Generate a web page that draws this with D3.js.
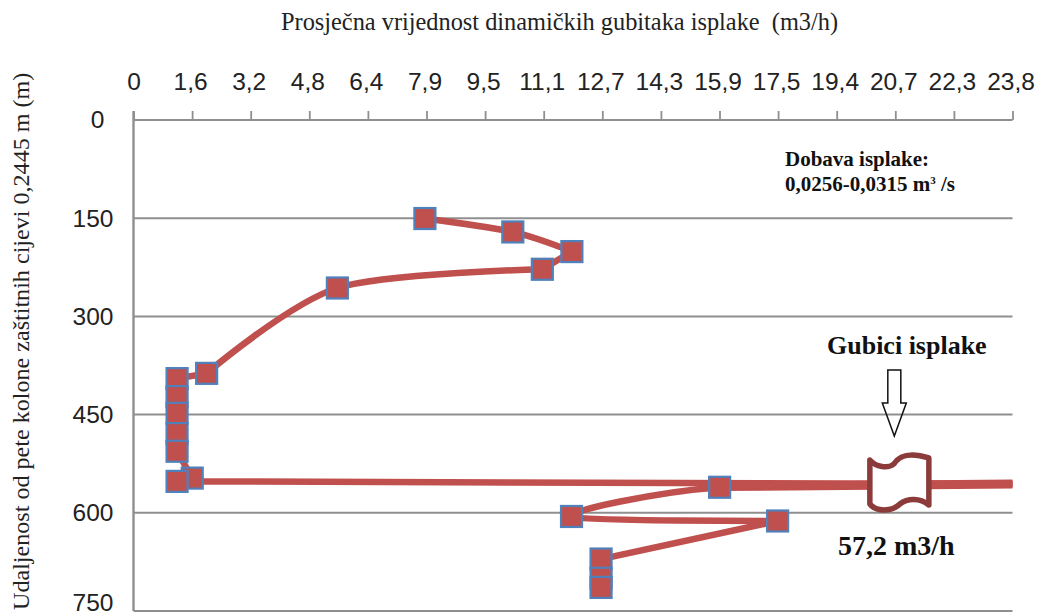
<!DOCTYPE html>
<html><head><meta charset="utf-8">
<script src="https://cdn.jsdelivr.net/npm/d3@7"></script>
<style>html,body{margin:0;padding:0;background:#fff}svg{display:block}</style></head>
<body><svg id="c" width="1052" height="616"></svg>
<script>
const xTickLabels = ["0","1,6","3,2","4,8","6,4","7,9","9,5","11,1","12,7","14,3","15,9","17,5","19,4","20,7","22,3","23,8"];
const yTicks = [0,150,300,450,600,750];
// upper branch, from 150 m down to the first point before the long run
const upperLoss = [7.89,10.27,11.87,11.07,5.52,1.98,1.18,1.18,1.18,1.18,1.18,1.59,1.18];
const upperDepth = [150.5,171,201,228,256.6,387,395,422.5,448,479,506,547,552];
// long run to the loss zone, leaving the plot on the right
const runLoss = [1.59,23.8];
const runDepth = [552,556];
// return from the loss zone to the marker at 15,9
const returnLoss = [23.8,15.87];
const returnDepth = [556,560];
// lower branch
const lowerLoss = [15.87,11.86,17.44,12.66,12.66,12.66];
const lowerDepth = [561,605.6,612.5,670.6,700,714];

const xMax = 23.8, yMax = 750;
const x0 = 133.5, x1 = 1012.5, y0 = 120, y1 = 611;
const grey = "#8f8f8f", red = "#c0504d", blue = "#4f81bd", dark = "#8c3b3b";
const serif = "Liberation Serif", sans = "Liberation Sans";

const svg = d3.select("#c");
const x = d3.scaleLinear().domain([0,xMax]).range([x0,x1]);
const y = d3.scaleLinear().domain([0,yMax]).range([y0,y1]);
const xIdx = d3.scalePoint().domain(xTickLabels).range([x0,x1]);
const zip = (a,b)=>a.map((v,i)=>[v,b[i]]);

const gx = svg.append("g").attr("transform",`translate(0,${y0})`)
  .call(d3.axisTop(xIdx).tickSize(9).tickPadding(21).tickSizeOuter(0));
gx.selectAll("path").attr("stroke",grey).attr("stroke-width",2).attr("d",`M${x0},0H${x1}`);
gx.selectAll("line").attr("stroke",grey).attr("stroke-width",1.8);
gx.selectAll("text").attr("font-family",sans).attr("font-size",24.5).attr("fill","#222")
  .attr("dx",(d,i)=>i===0?0:-2);

const gy = svg.append("g").attr("transform",`translate(${x0},0)`)
  .call(d3.axisLeft(y).tickValues(yTicks).tickSize(0).tickPadding(20).tickFormat(d3.format("d")));
gy.selectAll("path").attr("stroke",grey).attr("stroke-width",2.4).attr("d",`M0,${y0-9}V${y1}`);
gy.selectAll("text").attr("font-family",sans).attr("font-size",24.5).attr("fill","#222")
  .attr("dx",d=>d===0?-9:0).attr("y",d=>d===750?-8:0);

svg.append("g").selectAll("line").data(yTicks.slice(1)).join("line")
  .attr("x1",x0).attr("x2",x1).attr("y1",d=>y(d)).attr("y2",d=>y(d))
  .attr("stroke",grey).attr("stroke-width",2);

const smooth = d3.line().x(d=>x(d[0])).y(d=>y(d[1])).curve(d3.curveCardinal.tension(0.15));
const straight = d3.line().x(d=>x(d[0])).y(d=>y(d[1]));
const addLine = (pts,gen,w)=>svg.append("path").datum(pts).attr("d",gen)
  .attr("fill","none").attr("stroke",red).attr("stroke-width",w);
const upper = zip(upperLoss,upperDepth), lower = zip(lowerLoss,lowerDepth);
addLine(upper.slice(0,3),smooth,6.5);
addLine(upper.slice(2,4),straight,6.5);
addLine(upper.slice(3,6),smooth,6.5);
addLine(upper.slice(5),straight,6.5);
addLine(zip(runLoss,runDepth),straight,6.5);
addLine(zip(returnLoss,returnDepth),straight,9);
addLine([[returnLoss[0],returnDepth[0]]].concat(lower.slice(0,3)),smooth,6.5);
addLine(lower.slice(2),straight,6.5);

const markers = upper.concat(lower);
const size = 21;
svg.append("g").selectAll("rect").data(markers).join("rect")
  .attr("x",d=>x(d[0])-size/2).attr("y",d=>y(d[1])-size/2)
  .attr("width",size).attr("height",size)
  .attr("fill",red).attr("stroke",blue).attr("stroke-width",2.2);

// break symbol on the loss line
svg.append("path")
  .attr("transform",`translate(${x(20.75)},${y(556)})`)
  .attr("d","M-30,-24 C-24,-17 -12,-15 -6,-20 C0,-29 10,-32 29,-26 L29,21 C20,14 8,14 0,20 C-8,28 -24,28 -30,20 Z")
  .attr("fill","#fff").attr("stroke",dark).attr("stroke-width",5.5).attr("stroke-linejoin","round");

// block arrow
const ax = x(20.6);
svg.append("path")
  .attr("d",`M${ax-6.5},370H${ax+6.5}V403H${ax+12}L${ax},436L${ax-12},403H${ax-6.5}Z`)
  .attr("fill","none").attr("stroke","#111").attr("stroke-width",1.5);

svg.append("text").attr("x",281).attr("y",30).attr("font-family",serif).attr("font-size",24.35)
  .attr("fill","#222").attr("xml:space","preserve").text("Prosječna vrijednost dinamičkih gubitaka isplake  (m3/h)");
svg.append("text").attr("transform","translate(29,610) rotate(-90)").attr("font-family",serif).attr("font-size",24.1)
  .attr("fill","#222").text("Udaljenost od pete kolone zaštitnih cijevi 0,2445 m (m)");
const bold = (px,py,fs,t)=>svg.append("text").attr("x",px).attr("y",py).attr("font-family",serif)
  .attr("font-size",fs).attr("font-weight","bold").attr("fill","#111").text(t);
bold(785,166,21,"Dobava isplake:");
const d2 = bold(785,191,21,"");
d2.append("tspan").text("0,0256-0,0315 m");
d2.append("tspan").attr("font-size",11).attr("dy",-7).text("3");
d2.append("tspan").attr("dy",7).text(" /s");
bold(827,354,26,"Gubici isplake");
bold(838,555,28,"57,2 m3/h");
</script></body></html>
